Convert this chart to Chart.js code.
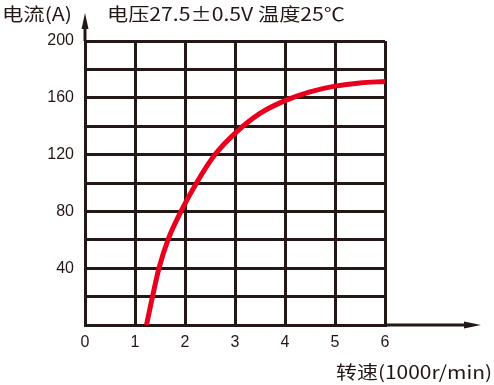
<!DOCTYPE html>
<html lang="zh">
<head>
    <meta charset="UTF-8">
    <title>电流-转速曲线</title>
    <script src="https://cdn.jsdelivr.net/npm/chart.js"></script>
    <style>
        body { margin: 0; padding: 0; background: #ffffff; }
        .wrap { width: 494px; height: 385px; }
    </style>
</head>
<body>
    <div class="wrap">
        <canvas id="curveChart" width="494" height="385"></canvas>
    </div>

    <script>
        // speed (1000 r/min) and current (A)
        const speed   = [1.23, 1.35, 1.48, 1.66, 1.92, 2.23, 2.6, 3.0, 3.5, 4.0, 4.5,   5.0,   5.5,   6.0];
        const current = [0,    20,   40,   60,   80,   100,  120, 135, 149, 158, 164.2, 168.2, 170.5, 171.5];
        const xTicks  = [0, 1, 2, 3, 4, 5, 6];
        const yLabels = [40, 80, 120, 160, 200];

        const titleText = '电压27.5±0.5V 温度25℃';
        const yTitle = '电流(A)';
        const xTitle = '转速(1000r/min)';

        const ink = '#231815';
        const cjkFont = '"Noto Sans CJK SC", "DejaVu Sans", sans-serif';

        // fit text into a given width (the source font is condensed)
        function fitText(ctx, text, x, y, w, size) {
            ctx.save();
            ctx.font = size + 'px ' + cjkFont;
            const m = ctx.measureText(text).width;
            ctx.translate(x, y);
            ctx.scale(w / m, 1);
            ctx.fillText(text, 0, 0);
            ctx.restore();
        }

        const decor = {
            id: 'decor',
            afterDraw(chart) {
                const ctx = chart.ctx;
                const xs = chart.scales.x, ys = chart.scales.y;
                const x0 = xs.getPixelForValue(0), y0 = ys.getPixelForValue(0);
                ctx.save();
                ctx.strokeStyle = ink;
                ctx.fillStyle = ink;
                ctx.lineWidth = 3;
                // axis extensions with arrows
                ctx.beginPath();
                ctx.moveTo(x0, ys.top);
                ctx.lineTo(x0, 24);
                ctx.moveTo(xs.right, y0);
                ctx.lineTo(470, y0);
                ctx.stroke();
                ctx.beginPath();
                ctx.moveTo(x0, 13);
                ctx.lineTo(x0 - 3.5, 29);
                ctx.lineTo(x0 + 3.5, 29);
                ctx.closePath();
                ctx.fill();
                ctx.beginPath();
                ctx.moveTo(481, y0);
                ctx.lineTo(464, y0 - 3.5);
                ctx.lineTo(464, y0 + 3.5);
                ctx.closePath();
                ctx.fill();

                ctx.textBaseline = 'alphabetic';
                ctx.textAlign = 'left';
                fitText(ctx, yTitle, 2, 21, 70, 18);
                fitText(ctx, titleText, 107, 21, 238, 18);
                fitText(ctx, xTitle, 336, 379, 156, 18);
                ctx.restore();
            }
        };

        const ctx = document.getElementById('curveChart').getContext('2d');
        new Chart(ctx, {
            type: 'line',
            data: {
                datasets: [{
                    data: speed.map((s, i) => ({ x: s, y: current[i] })),
                    borderColor: '#e8001c',
                    borderWidth: 5,
                    pointRadius: 0,
                    fill: false,
                    cubicInterpolationMode: 'monotone'
                }]
            },
            options: {
                responsive: false,
                animation: false,
                layout: { padding: { top: 41, right: 109, left: 0, bottom: 0 } },
                plugins: { legend: { display: false }, tooltip: { enabled: false } },
                scales: {
                    x: {
                        type: 'linear',
                        min: 0,
                        max: 6,
                        afterBuildTicks: (s) => { s.ticks = xTicks.map(v => ({ value: v })); },
                        afterFit: (s) => { s.height = 60; },
                        grid: { color: ink, lineWidth: 3, drawTicks: false },
                        border: { color: ink, width: 3 },
                        ticks: {
                            color: ink,
                            padding: 8,
                            font: { family: '"Liberation Sans", Arial, sans-serif', size: 16 }
                        }
                    },
                    y: {
                        min: 0,
                        max: 200,
                        ticks: {
                            stepSize: 20,
                            color: ink,
                            padding: 11,
                            font: { family: '"Liberation Sans", Arial, sans-serif', size: 16 },
                            callback: (v) => yLabels.includes(v) ? String(v) : ''
                        },
                        afterFit: (s) => { s.width = 85; },
                        grid: { color: ink, lineWidth: 3, drawTicks: false },
                        border: { color: ink, width: 3 }
                    }
                }
            },
            plugins: [decor]
        });
    </script>
</body>
</html>
